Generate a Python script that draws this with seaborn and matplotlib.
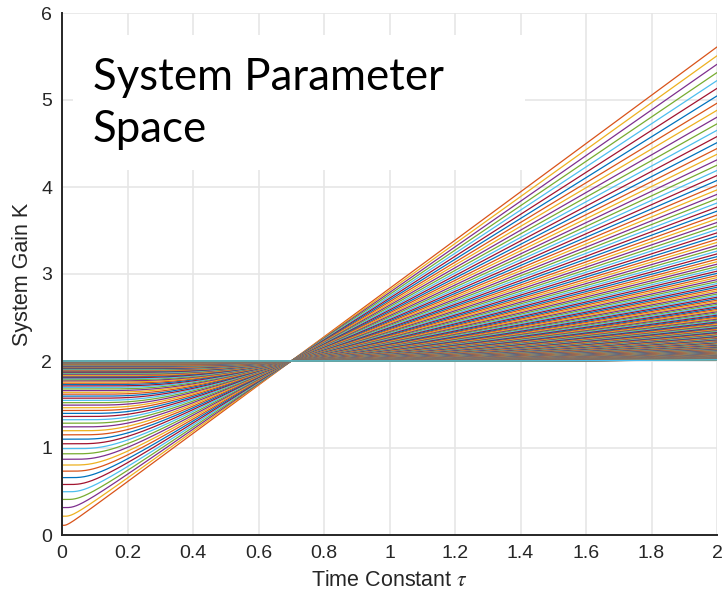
import numpy as np
import pandas as pd
import matplotlib
matplotlib.use("Agg")
import matplotlib.pyplot as plt
from matplotlib.patches import Rectangle
from matplotlib.ticker import FuncFormatter
import seaborn as sns

# ---- data ----
# family of curves K(tau) through the common point (0.7, 2);
# one curve per parameter value T (step 0.04 up to 10)
pass_tau = 0.7
pass_gain = 2.0
T_values = np.round(np.arange(1, 251) * 0.04, 2)
tau_grid = np.linspace(0.0, 2.0, 501)
x_ticks = [0, 0.2, 0.4, 0.6, 0.8, 1.0, 1.2, 1.4, 1.6, 1.8, 2.0]
y_ticks = [0, 1, 2, 3, 4, 5, 6]
matlab_colors = ["#0072BD", "#D95319", "#EDB120", "#7E2F8E",
                 "#77AC30", "#4DBEEE", "#A2142F"]

rows = []
for k, T in enumerate(T_values, start=1):
    c = pass_gain * (1 - np.exp(-T / pass_tau))
    with np.errstate(divide="ignore", over="ignore"):
        denom = 1 - np.exp(-T / np.where(tau_grid > 0, tau_grid, 1e-12))
    K = c / denom
    rows.append(pd.DataFrame({"tau": tau_grid, "K": K, "line": k}))
df = pd.concat(rows, ignore_index=True)
palette = {k: matlab_colors[k % 7] for k in range(1, len(T_values) + 1)}

# ---- style ----
sns.set_style("white")
plt.rcParams["font.family"] = ["Liberation Sans", "DejaVu Sans"]
plt.rcParams["mathtext.fontset"] = "stix"

fig = plt.figure(figsize=(7.25, 5.99), dpi=100)
ax = fig.add_axes([62 / 725, 1 - 535 / 599, 655 / 725, 522 / 599])

sns.lineplot(data=df, x="tau", y="K", hue="line", palette=palette,
             legend=False, estimator=None, sort=False, linewidth=0.9,
             ax=ax)

ax.set_xlim(0, 2)
ax.set_ylim(0, 6)
ax.set_xticks(x_ticks)
ax.set_yticks(y_ticks)
fmt = FuncFormatter(lambda v, p: ("%g" % v))
ax.xaxis.set_major_formatter(fmt)
ax.yaxis.set_major_formatter(fmt)
ax.grid(True, color="#e6e6e6", linewidth=1.2)
ax.set_axisbelow(True)
for s in ["top", "right"]:
    ax.spines[s].set_visible(False)
for s in ["left", "bottom"]:
    ax.spines[s].set_color("#262626")
    ax.spines[s].set_linewidth(1.4)
ax.tick_params(direction="in", length=6, width=1.1, colors="#262626",
               labelsize=14, pad=7)

ax.set_xlabel("Time Constant $\\tau$", fontsize=15.5, color="#262626",
              labelpad=6)
ax.set_ylabel("System Gain K", fontsize=15.5, color="#262626", labelpad=6)

ax.add_patch(Rectangle((11 / 655, (535 - 170) / 522), 452 / 655, 135 / 522,
                       transform=ax.transAxes, facecolor="white",
                       edgecolor="none", zorder=1.5))
ax.text(31 / 655, (535 - 90) / 522, "System Parameter", transform=ax.transAxes,
        fontsize=31.5, family=["Lato", "DejaVu Sans"], color="black",
        va="baseline", ha="left", zorder=3)
ax.text(31 / 655, (535 - 142) / 522, "Space", transform=ax.transAxes,
        fontsize=31.5, family=["Lato", "DejaVu Sans"], color="black",
        va="baseline", ha="left", zorder=3)

fig.savefig("out.png", dpi=100)
